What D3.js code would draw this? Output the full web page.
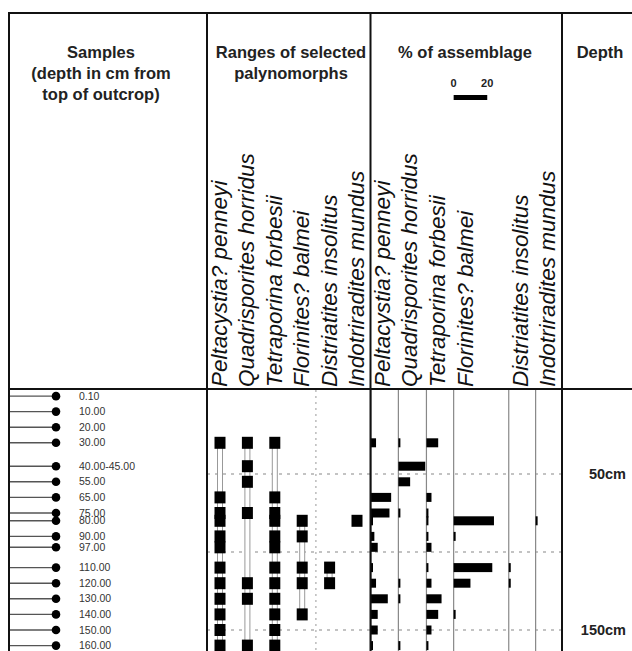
<!DOCTYPE html>
<html>
<head>
<meta charset="utf-8">
<script src="https://cdn.jsdelivr.net/npm/d3@7"></script>
<style>
  body { margin: 0; background: #fff; }
  svg { display: block; }
  .hdr { font-family: "Liberation Sans", Arial, sans-serif; font-weight: bold; fill: #222; }
  .sp { font-family: "Liberation Sans Narrow", "Arial Narrow", sans-serif; font-style: italic; fill: #111; }
</style>
</head>
<body>
<div id="chart"></div>
<script>
// Global const
const W = 632, H = 651;

// Data
const species = ["Peltacystia? penneyi", "Quadrisporites horridus", "Tetraporina forbesii",
                 "Florinites? balmei", "Distriatites insolitus", "Indotriradites mundus"];
const sampleLabels = ["0.10", "10.00", "20.00", "30.00", "40.00-45.00", "55.00", "65.00", "75.00", "80.00",
                      "90.00", "97.00", "110.00", "120.00", "130.00", "140.00", "150.00", "160.00"];
const sampleDepths = [0.1, 10, 20, 30, 45, 55, 65, 75, 80, 90, 97, 110, 120, 130, 140, 150, 160];
// % of assemblage per sample (0 = not recorded)
const peltacystia    = [0, 0, 0, 3, 0, 0, 12, 11, 1, 2, 4, 1, 3, 10, 4, 4, 1];
const quadrisporites = [0, 0, 0, 1, 16, 7, 0, 1, 0, 0, 0, 0, 1, 1, 0, 0, 1];
const tetraporina    = [0, 0, 0, 7, 0, 0, 3, 1, 1, 1, 3, 1, 3, 9, 7, 3, 1];
const florinites     = [0, 0, 0, 0, 0, 0, 0, 0, 24, 1, 0, 23, 10, 0, 1, 0, 0];
const distriatites   = [0, 0, 0, 0, 0, 0, 0, 0, 0, 0, 0, 1, 1, 0, 0, 0, 0];
const indotriradites = [0, 0, 0, 0, 0, 0, 0, 0, 1, 0, 0, 0, 0, 0, 0, 0, 0];
const percents = [peltacystia, quadrisporites, tetraporina, florinites, distriatites, indotriradites];
// where each % column starts, in % units
const pctColStart = [0, 16.3, 33, 49.2, 82, 98];
const depthMarks = [50, 100, 150];
const depthLabels = ["50cm", "150cm"];

let svg = d3.select("#chart")
  .append("svg")
    .attr("width", W)
    .attr("height", H);

svg.append("rect").attr("width", W).attr("height", H).attr("fill", "#fff");

// Scales
const y = d3.scaleLinear().domain([0, 160]).range([396, 645.6]);
const xRange = d3.scalePoint().domain(species).range([220, 357]);
const xPct = d3.scaleLinear().domain([0, 114]).range([371, 562.5]);
const pctLen = (v) => xPct(v) - xPct(0);

// Horizontal dashed depth lines
svg.selectAll(".depthline")
  .data(depthMarks)
  .enter()
  .append("line")
    .attr("x1", 207).attr("x2", 562)
    .attr("y1", (d) => y(d)).attr("y2", (d) => y(d))
    .attr("stroke", "#888")
    .attr("stroke-width", 1.2)
    .attr("stroke-dasharray", "3,5");

// Dotted line in range chart
svg.append("line")
  .attr("x1", (xRange(species[3]) + xRange(species[4])) / 2)
  .attr("x2", (xRange(species[3]) + xRange(species[4])) / 2)
  .attr("y1", 390).attr("y2", H)
  .attr("stroke", "#aaa")
  .attr("stroke-width", 1.2)
  .attr("stroke-dasharray", "2,4");

// Samples column
let samples = svg.append("g");
samples.selectAll("line")
  .data(sampleDepths)
  .enter()
  .append("line")
    .attr("x1", 9).attr("x2", 56)
    .attr("y1", (d) => y(d)).attr("y2", (d) => y(d))
    .attr("stroke", "#555")
    .attr("stroke-width", 1.4);
samples.selectAll("circle")
  .data(sampleDepths)
  .enter()
  .append("circle")
    .attr("cx", 56)
    .attr("cy", (d) => y(d))
    .attr("r", 4.3)
    .attr("fill", "#000");
samples.selectAll("text")
  .data(sampleLabels)
  .enter()
  .append("text")
    .attr("x", 79)
    .attr("y", (d, i) => y(sampleDepths[i]))
    .attr("dy", "0.35em")
    .attr("font-family", "Liberation Sans, Arial, sans-serif")
    .attr("font-size", "10.5px")
    .attr("fill", "#333")
    .text((d) => d);

// Range chart
species.forEach((sp, j) => {
  let present = sampleDepths.filter((d, i) => percents[j][i] > 0);
  let g = svg.append("g");
  if (present.length > 1) {
    g.append("rect")
      .attr("x", xRange(sp) - 2.5)
      .attr("y", y(d3.min(present)))
      .attr("width", 5)
      .attr("height", y(d3.max(present)) - y(d3.min(present)))
      .attr("fill", "#fff")
      .attr("stroke", "#999")
      .attr("stroke-width", 1);
  }
  g.selectAll("rect.box")
    .data(present)
    .enter()
    .append("rect")
      .attr("class", "box")
      .attr("x", xRange(sp) - 5.5)
      .attr("y", (d) => y(d) - 6)
      .attr("width", 11)
      .attr("height", 12)
      .attr("fill", "#000");
});

// % of assemblage chart
species.forEach((sp, j) => {
  let x0 = xPct(pctColStart[j]);
  svg.append("line")
    .attr("x1", x0).attr("x2", x0)
    .attr("y1", 390).attr("y2", H)
    .attr("stroke", "#888")
    .attr("stroke-width", 1.2);
  svg.append("g").selectAll("rect")
    .data(sampleDepths.map((d, i) => ({depth: d, v: percents[j][i]})).filter((d) => d.v > 0))
    .enter()
    .append("rect")
      .attr("x", x0)
      .attr("y", (d) => y(d.depth) - 4.5)
      .attr("width", (d) => Math.max(pctLen(d.v), 2))
      .attr("height", 9)
      .attr("fill", "#000");
});

// Species labels (rotated)
svg.selectAll(".splab1")
  .data(species)
  .enter()
  .append("text")
    .attr("class", "sp")
    .attr("transform", (d) => "translate(" + (xRange(d) + 7) + ",387)rotate(-90)")
    .attr("font-size", "22.5px")
    .text((d) => d);

svg.selectAll(".splab2")
  .data(species)
  .enter()
  .append("text")
    .attr("class", "sp")
    .attr("transform", (d, i) => "translate(" + (xPct(pctColStart[i]) + 19) + ",387)rotate(-90)")
    .attr("font-size", "22.5px")
    .text((d) => d);

// Depth labels
svg.selectAll(".dlab")
  .data(depthLabels)
  .enter()
  .append("text")
    .attr("class", "hdr")
    .attr("x", 626)
    .attr("y", (d) => y(parseFloat(d)))
    .attr("dy", "0.35em")
    .attr("text-anchor", "end")
    .attr("font-size", "14.5px")
    .text((d) => d);

// Headers
function header(lines, cx, y0) {
  svg.append("text")
    .attr("class", "hdr")
    .attr("text-anchor", "middle")
    .attr("font-size", "16.5px")
    .selectAll("tspan")
    .data(lines)
    .enter()
    .append("tspan")
      .attr("x", cx)
      .attr("y", (d, i) => y0 + i * 21)
      .text((d) => d);
}
header(["Samples", "(depth in cm from", "top of outcrop)"], 101, 58);
header(["Ranges of selected", "palynomorphs"], 291, 58);
header(["% of assemblage"], 465, 58);
header(["Depth"], 600, 58);

// Scale bar 0-20 %
svg.append("rect")
  .attr("x", xPct(49.2))
  .attr("y", 95)
  .attr("width", pctLen(20))
  .attr("height", 5)
  .attr("fill", "#000");
svg.selectAll(".sc")
  .data([0, 20])
  .enter()
  .append("text")
    .attr("class", "hdr")
    .attr("x", (d) => xPct(49.2) + pctLen(d))
    .attr("y", 87)
    .attr("text-anchor", "middle")
    .attr("font-size", "11px")
    .text((d) => d);

// Frame
let frame = svg.append("g").attr("stroke", "#111").attr("stroke-width", 2);
frame.append("line").attr("x1", 9).attr("x2", W).attr("y1", 13).attr("y2", 13);
frame.append("line").attr("x1", 9).attr("x2", W).attr("y1", 389).attr("y2", 389);
[9, 207, 370.5, 562].forEach((x) => {
  frame.append("line").attr("x1", x).attr("x2", x).attr("y1", 12).attr("y2", H);
});
</script>
</body>
</html>
